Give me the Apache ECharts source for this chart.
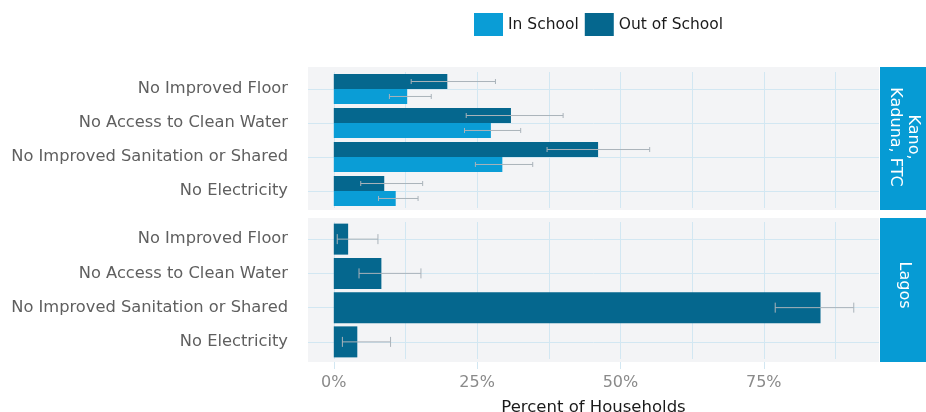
<!DOCTYPE html>
<html><head><meta charset="utf-8">
<script src="https://cdn.jsdelivr.net/npm/echarts@6/dist/echarts.min.js"></script>
<style>html,body{margin:0;padding:0;background:#fff}#c{width:926px;height:412px}</style>
</head><body><div id="c"></div>
<script>
const categories = ['No Improved Floor','No Access to Clean Water','No Improved Sanitation or Shared','No Electricity'];
const kkfIn = [12.8, 27.4, 29.4, 10.8];
const kkfInLow = [9.7, 22.8, 24.7, 7.8];
const kkfInHigh = [17.0, 32.6, 34.7, 14.7];
const kkfOut = [19.8, 30.9, 46.1, 8.8];
const kkfOutLow = [13.5, 23.1, 37.2, 4.7];
const kkfOutHigh = [28.2, 40.0, 55.1, 15.5];
const lagosOut = [2.5, 8.3, 84.9, 4.1];
const lagosOutLow = [0.6, 4.4, 77.0, 1.5];
const lagosOutHigh = [7.7, 15.2, 90.7, 9.9];
const xGridValues = [0, 12.5, 25, 37.5, 50, 62.5, 75, 87.5];
const xLabelValues = [0, 25, 50, 75];
const panelNames = ['Kano,\nKaduna, FTC', 'Lagos'];

const C_IN = '#0a9dd6', C_OUT = '#05678e', GRID = '#d2e7f2', ERR = '#aab3ba';
const FONT = 'DejaVu Sans';
const X_MIN = -4.5, X_MAX = 95.1;

function errData(lo, hi){ return lo.map((v,i)=>[i, v, hi[i]]); }
function errRender(frac, cap){
  return function(params, api){
    const cat = api.value(0);
    const a = api.coord([api.value(1), cat]);
    const b = api.coord([api.value(2), cat]);
    const band = api.size([0,1])[1];
    const y = a[1] + band*frac;
    const st = {stroke: ERR, lineWidth: 1};
    return {type:'group', children:[
      {type:'line', shape:{x1:a[0],y1:y,x2:b[0],y2:y}, style:st},
      {type:'line', shape:{x1:a[0],y1:y-cap,x2:a[0],y2:y+cap}, style:st},
      {type:'line', shape:{x1:b[0],y1:y-cap,x2:b[0],y2:y+cap}, style:st}
    ]};
  };
}
// hidden axis that only draws the vertical grid lines (major + minor)
function gridAxis(idx){
  return {
    type:'value', gridIndex: idx, min:X_MIN, max:X_MAX,
    axisLine:{show:false},
    axisTick:{show:false, customValues:xGridValues},
    axisLabel:{show:false},
    splitLine:{show:true, lineStyle:{color:GRID, width:1}}
  };
}
function yAxisCfg(idx){
  return {
    type:'category', gridIndex: idx, data: categories, inverse:true,
    axisLine:{show:false},
    axisTick:{show:true, alignWithLabel:true, length:12, lineStyle:{color:GRID}},
    axisLabel:{color:'#5f5f5f', fontSize:16.3, fontFamily:FONT, margin:20},
    splitLine:{show:true, alignWithLabel:true, lineStyle:{color:GRID}}
  };
}

const chart = echarts.init(document.getElementById('c'), null, {renderer:'canvas'});
chart.setOption({
  animation:false,
  backgroundColor:'#fff',
  textStyle:{fontFamily:FONT},
  legend:{data:['In School','Out of School'], left:474, top:13, padding:0, itemWidth:29, itemHeight:23, itemGap:6,
    icon:'rect', textStyle:{fontSize:15.5, color:'#1a1a1a', fontFamily:FONT}},
  grid:[
    {left:308, right:47, top:72, height:136, outerBoundsMode:'none', containLabel:false},
    {left:308, right:47, top:222, height:137, outerBoundsMode:'none', containLabel:false}
  ],
  xAxis:[
    gridAxis(0),
    {
      type:'value', gridIndex:1, min:X_MIN, max:X_MAX, position:'bottom', offset:3,
      axisLine:{show:false},
      axisTick:{show:true, customValues:xLabelValues, length:7, lineStyle:{color:GRID}},
      axisLabel:{show:true, customValues:xLabelValues, formatter:v=>v+'%', color:'#8a8a8a', fontSize:16, fontFamily:FONT, margin:13},
      splitLine:{show:false},
      name:'Percent of Households', nameLocation:'middle', nameGap:37,
      nameTextStyle:{color:'#1a1a1a', fontSize:16.5, fontFamily:FONT}
    },
    Object.assign(gridAxis(1), {position:'top'})
  ],
  yAxis:[yAxisCfg(0), yAxisCfg(1)],
  graphic:[
    {type:'rect', z:-10, silent:true, shape:{x:308,y:67,width:571,height:143}, style:{fill:'#f3f4f6'}},
    {type:'rect', z:-10, silent:true, shape:{x:308,y:218,width:571,height:144}, style:{fill:'#f3f4f6'}},
    {type:'rect', silent:true, shape:{x:880,y:67,width:46,height:143}, style:{fill:'#069bd4'}},
    {type:'rect', silent:true, shape:{x:880,y:218,width:46,height:144}, style:{fill:'#069bd4'}},
    {type:'text', silent:true, x:904, y:137, rotation:-Math.PI/2, style:{text:panelNames[0], fill:'#fff', font:'16px "'+FONT+'"', align:'center', verticalAlign:'middle', lineHeight:18}},
    {type:'text', silent:true, x:904, y:285, rotation:-Math.PI/2, style:{text:panelNames[1], fill:'#fff', font:'16px "'+FONT+'"', align:'center', verticalAlign:'middle'}}
  ],
  series:[
    {name:'Out of School', type:'bar', xAxisIndex:0, yAxisIndex:0, data:kkfOut, barWidth:15, barGap:'0%', itemStyle:{color:C_OUT}},
    {name:'In School', type:'bar', xAxisIndex:0, yAxisIndex:0, data:kkfIn, barWidth:15, barGap:'0%', itemStyle:{color:C_IN}},
    {name:'Out of School', type:'bar', xAxisIndex:1, yAxisIndex:1, data:lagosOut, barWidth:31, itemStyle:{color:C_OUT}},
    {name:'errOutKKF', type:'custom', xAxisIndex:0, yAxisIndex:0, data:errData(kkfOutLow,kkfOutHigh), encode:{x:[1,2], y:0}, renderItem:errRender(-0.22,2.5), z:5},
    {name:'errInKKF', type:'custom', xAxisIndex:0, yAxisIndex:0, data:errData(kkfInLow,kkfInHigh), encode:{x:[1,2], y:0}, renderItem:errRender(0.22,2.5), z:5},
    {name:'errLagos', type:'custom', xAxisIndex:1, yAxisIndex:1, data:errData(lagosOutLow,lagosOutHigh), encode:{x:[1,2], y:0}, renderItem:errRender(0,5), z:5}
  ]
});
</script></body></html>
